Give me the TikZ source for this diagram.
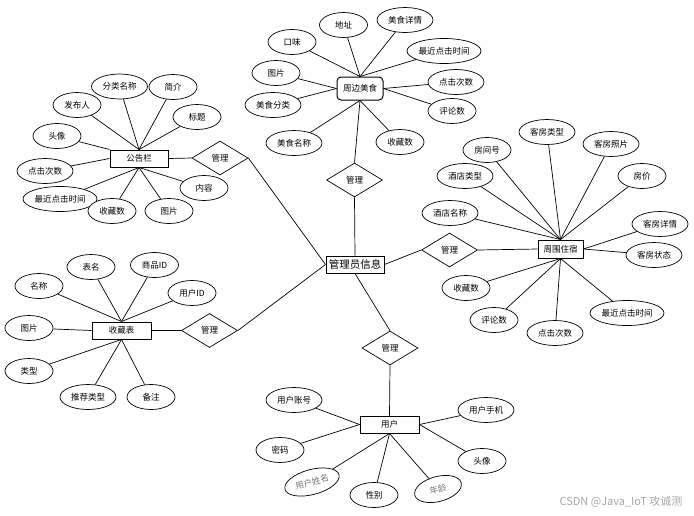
\documentclass[tikz,border=0pt]{standalone}
\usepackage{fontspec}
\setmainfont{Noto Sans CJK SC}
\usetikzlibrary{shapes.geometric}
\begin{document}
\begin{tikzpicture}[x=1pt,y=-1pt,
  attr/.style={ellipse, draw, fill=white, line width=0.7pt, minimum width=48pt, minimum height=25pt, inner sep=0pt, font=\fontsize{8.5}{10}\selectfont},
  wide/.style={attr, minimum width=56pt},
  wider/.style={attr, minimum width=74pt},
  ent/.style={rectangle, draw, fill=white, line width=1pt, minimum width=58pt, minimum height=17pt, inner sep=0pt, font=\fontsize{8.5}{10}\selectfont},
  rel/.style={diamond, draw, fill=white, line width=0.7pt, minimum width=56pt, minimum height=34pt, inner sep=0pt, font=\fontsize{8.5}{10}\selectfont},
  tilted/.style={rotate=15, text=black!55},
  conn/.style={line width=0.7pt}]
\useasboundingbox (0,0) rectangle (694,515);

% central entity
\node[ent, minimum width=58pt, font=\fontsize{10.5}{12}\selectfont] (m) at (355,264.5) {管理员信息};

% 公告栏
\node[ent] (g) at (139,158.5) {公告栏};
\node[wide] (ga1) at (119.5,86.5) {分类名称};
\node[attr] (ga2) at (173,87) {简介};
\node[attr] (ga3) at (77,105) {发布人};
\node[attr] (ga4) at (197,117) {标题};
\node[attr] (ga5) at (57,136) {头像};
\node[wide] (ga6) at (45,171) {点击次数};
\node[wider] (ga7) at (60,199) {最近点击时间};
\node[attr] (ga8) at (112,211) {收藏数};
\node[attr] (ga9) at (169,211) {图片};
\node[attr] (ga10) at (204,188) {内容};
\node[rel] (gr) at (220,158) {管理};

% 周边美食
\node[ent, rounded corners=4pt, minimum width=46pt, minimum height=23pt] (f) at (360,88.5) {周边美食};
\node[attr] (fa1) at (343.5,25) {地址};
\node[wide] (fa2) at (405,20) {美食详情};
\node[attr] (fa3) at (292,42) {口味};
\node[wider] (fa4) at (444,51) {最近点击时间};
\node[attr] (fa5) at (276,73) {图片};
\node[wide] (fa6) at (456,82) {点击次数};
\node[wide] (fa7) at (273,105) {美食分类};
\node[attr] (fa8) at (452,111) {评论数};
\node[wide] (fa9) at (294,143) {美食名称};
\node[attr] (fa10) at (400,142) {收藏数};
\node[rel] (fr) at (354.5,180) {管理};

% 周围住宿
\node[ent, minimum width=45pt, minimum height=18pt] (h) at (560.5,249) {周围住宿};
\node[wide] (ha1) at (547,132) {客房类型};
\node[attr] (ha2) at (487,150) {房间号};
\node[wide] (ha3) at (611,144) {客房照片};
\node[wide] (ha4) at (465,176) {酒店类型};
\node[attr] (ha5) at (642,176) {房价};
\node[wide] (ha6) at (450,213) {酒店名称};
\node[wide] (ha7) at (660,224) {客房详情};
\node[wide] (ha8) at (654,255) {客房状态};
\node[attr] (ha9) at (466,288) {收藏数};
\node[attr] (ha10) at (494,320) {评论数};
\node[wide] (ha11) at (555,333) {点击次数};
\node[wider] (ha12) at (627,313) {最近点击时间};
\node[rel] (hr) at (449.5,250) {管理};

% 收藏表
\node[ent, minimum width=59pt] (c) at (121.5,330.5) {收藏表};
\node[attr] (ca1) at (91,267) {表名};
\node[attr] (ca2) at (154.5,265) {商品ID};
\node[attr] (ca3) at (39,286) {名称};
\node[attr] (ca4) at (192,293) {用户ID};
\node[attr] (ca5) at (29,328) {图片};
\node[attr] (ca6) at (29,371) {类型};
\node[wide] (ca7) at (88,397) {推荐类型};
\node[attr] (ca8) at (151,397) {备注};
\node[rel] (cr) at (209.5,330.5) {管理};

% 用户
\node[ent, minimum width=59pt] (u) at (389.5,424.5) {用户};
\node[wide] (ua1) at (294,400) {用户账号};
\node[wide] (ua2) at (486,410) {用户手机};
\node[attr] (ua3) at (280,450) {密码};
\node[attr] (ua4) at (482,461) {头像};
\node[wide, tilted] (ua5) at (312,482) {用户姓名};
\node[attr] (ua6) at (374,495) {性别};
\node[attr, tilted] (ua7) at (438,489) {年龄};
\node[rel] (ur) at (390,348) {管理};

% connectors 公告栏
\foreach \a in {ga1,ga2,ga3,ga4} \draw[conn] (\a) -- (g.north);
\draw[conn] (ga5) -- (g.north west);
\draw[conn] (ga6) -- (g.west);
\foreach \a in {ga7,ga8,ga9,ga10} \draw[conn] (\a) -- (g.south);
\draw[conn] (g.east) -- (gr.west);
\draw[conn] (gr.east) -- (m.west);

% connectors 周边美食
\foreach \a in {fa1,fa2,fa3,fa4} \draw[conn] (\a) -- (f.north);
\foreach \a in {fa5,fa7} \draw[conn] (\a) -- (f.west);
\foreach \a in {fa6,fa8} \draw[conn] (\a) -- (f.east);
\foreach \a in {fa9,fa10} \draw[conn] (\a) -- (f.south);
\draw[conn] (f.south) -- (fr.north);
\draw[conn] (fr.south) -- (m.north);

% connectors 周围住宿
\foreach \a in {ha1,ha2,ha3,ha4,ha5,ha6} \draw[conn] (\a) -- (h.north);
\foreach \a in {ha7,ha8} \draw[conn] (\a) -- (h.east);
\foreach \a in {ha9,ha10,ha11,ha12} \draw[conn] (\a) -- (h.south);
\draw[conn] (m.east) -- (hr.west);
\draw[conn] (hr.east) -- (h.west);

% connectors 收藏表
\foreach \a in {ca1,ca2,ca3,ca4} \draw[conn] (\a) -- (c.north);
\draw[conn] (ca5) -- (c.west);
\foreach \a in {ca6,ca7,ca8} \draw[conn] (\a) -- (c.south);
\draw[conn] (c.east) -- (cr.west);
\draw[conn] (cr.east) -- (m.west);

% connectors 用户
\foreach \a in {ua1,ua3} \draw[conn] (\a) -- (u.west);
\foreach \a in {ua2,ua4} \draw[conn] (\a) -- (u.east);
\foreach \a in {ua5,ua6,ua7} \draw[conn] (\a) -- (u.south);
\draw[conn] (m.south) -- (ur.north);
\draw[conn] (ur.south) -- (u.north);

% watermark
\node[text=black!35, font=\fontsize{11}{13}\selectfont] (wm) at (621,502) {CSDN @Java\_IoT 攻诚测};
\end{tikzpicture}
\end{document}
